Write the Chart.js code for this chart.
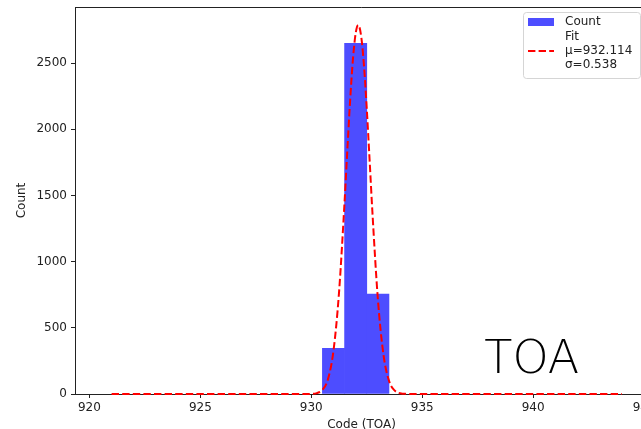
<!DOCTYPE html>
<html>
<head>
<meta charset="utf-8">
<script src="https://cdn.jsdelivr.net/npm/chart.js@4.4.0/dist/chart.umd.min.js"></script>
<style>
  html, body { margin: 0; padding: 0; background: #fff; overflow: hidden; }
  #wrap { position: relative; width: 690px; height: 429px; }
</style>
</head>
<body>
<div id="wrap"><canvas id="chart-toa"></canvas></div>
<script>
// ── Data ───────────────────────────────────────────────────

// histogram bin centres and counts
const binCenters = [931, 932, 933];
const binCounts  = [345, 2650, 755];

// fitted gaussian
const fitX = [921, 929, 929.5, 930, 930.25, 930.5, 930.75, 931, 931.25, 931.5, 931.625, 931.75, 931.875,
              932, 932.114, 932.25, 932.375, 932.5, 932.625, 932.75, 933, 933.25, 933.5, 933.75, 934, 934.25, 935, 944];
const fitY = [0, 0, 0, 1, 7, 31, 112, 327, 768, 1454, 1845, 2218, 2526,
              2726, 2788, 2700, 2479, 2155, 1776, 1386, 718, 300, 101, 27, 6, 1, 0, 0];

const xTicks = [920, 925, 930, 935, 940, 945];
const yTicks = [0, 500, 1000, 1500, 2000, 2500];

const legendLines = ['Fit', 'μ=932.114', 'σ=0.538'];

// ── Styles ─────────────────────────────────────────────────

const FONT = "'DejaVu Sans', sans-serif";
const BAR_COLOR = 'rgb(77, 77, 255)';
const FIT_COLOR = '#ff0000';

Chart.defaults.font.family = FONT;
Chart.defaults.font.size = 12;
Chart.defaults.color = '#222';

// top/right spines, drawn under the data
const framePlugin = {
  id: 'frame',
  beforeDatasetsDraw(chart) {
    const { ctx, chartArea: a } = chart;
    ctx.save();
    ctx.strokeStyle = '#222';
    ctx.lineWidth = 1;
    ctx.beginPath();
    ctx.moveTo(a.left, a.top + 0.5);
    ctx.lineTo(a.right + 0.5, a.top + 0.5);
    ctx.lineTo(a.right + 0.5, a.bottom);
    ctx.stroke();
    ctx.restore();
  },
};

// legend + big label
const decorPlugin = {
  id: 'decor',
  afterDraw(chart) {
    const { ctx, scales } = chart;
    ctx.save();

    // big "TOA" label
    ctx.fillStyle = '#000';
    ctx.font = "200 46px 'DejaVu Sans'";
    ctx.textBaseline = 'alphabetic';
    ctx.textAlign = 'left';
    ctx.fillText('TOA', scales.x.getPixelForValue(937.8), scales.y.getPixelForValue(160));

    // legend box
    const bx = 523, by = 12, bw = 117, bh = 66;
    ctx.beginPath();
    ctx.roundRect(bx + 0.5, by + 0.5, bw, bh, 3);
    ctx.fillStyle = 'rgba(255,255,255,0.8)';
    ctx.fill();
    ctx.strokeStyle = '#d5d5d5';
    ctx.stroke();

    ctx.fillStyle = BAR_COLOR;
    ctx.fillRect(bx + 5, by + 6, 26, 8);

    ctx.font = "12px 'DejaVu Sans'";
    ctx.fillStyle = '#222';
    ctx.textBaseline = 'middle';
    ctx.fillText('Count', bx + 42, by + 10);
    legendLines.forEach((t, i) => ctx.fillText(t, bx + 42, by + 25 + i * 14));

    ctx.beginPath();
    ctx.setLineDash([7.4, 3.2]);
    ctx.strokeStyle = FIT_COLOR;
    ctx.lineWidth = 2;
    ctx.moveTo(bx + 5, by + 39);
    ctx.lineTo(bx + 31, by + 39);
    ctx.stroke();

    ctx.restore();
  },
};

new Chart(document.getElementById('chart-toa'), {
  type: 'bar',
  data: {
    datasets: [
      {
        type:            'bar',
        label:           'Count',
        data:            binCenters.map((x, i) => ({ x, y: binCounts[i] })),
        backgroundColor: BAR_COLOR,
        borderWidth:     0,
        barPercentage:   1,
        categoryPercentage: 1,
        order:           2,
      },
      {
        type:            'line',
        label:           'Fit',
        data:            fitX.map((x, i) => ({ x, y: fitY[i] })),
        borderColor:     FIT_COLOR,
        borderDash:      [7.4, 3.2],
        borderWidth:     2,
        pointRadius:     0,
        fill:            false,
        clip:            false,
        cubicInterpolationMode: 'monotone',
        order:           1,
      },
    ],
  },
  options: {
    responsive: true,
    maintainAspectRatio: false,
    animation: false,
    layout: { padding: { left: 0, top: 7, right: 42, bottom: 0 } },
    plugins: { legend: { display: false }, tooltip: { enabled: false } },
    scales: {
      x: {
        type: 'linear',
        min: 919.35,
        max: 945.175,
        offset: false,
        afterBuildTicks: s => { s.ticks = xTicks.map(v => ({ value: v })); },
        afterFit: s => { s.height = 35; s.paddingLeft = 0; s.paddingRight = 0; },
        grid:   { drawOnChartArea: false, offset: false, tickLength: 4, color: '#222' },
        border: { color: '#222' },
        ticks:  { padding: 3, maxRotation: 0, autoSkip: false, color: '#222', callback: v => String(v) },
        title:  { display: true, text: 'Code (TOA)', padding: { top: 0, bottom: -3 }, color: '#222' },
      },
      y: {
        min: 0,
        max: 2924,
        afterBuildTicks: s => { s.ticks = yTicks.map(v => ({ value: v })); },
        afterFit: s => { s.width = 75; s.paddingTop = 0; s.paddingBottom = 0; },
        grid:   { drawOnChartArea: false, tickLength: 4, color: '#222' },
        border: { color: '#222' },
        ticks:  { padding: 4, color: '#222', callback: v => String(v) },
        title:  { display: true, text: 'Count', padding: { top: 15, bottom: 0 }, color: '#222' },
      },
    },
  },
  plugins: [framePlugin, decorPlugin],
});
</script>
</body>
</html>
